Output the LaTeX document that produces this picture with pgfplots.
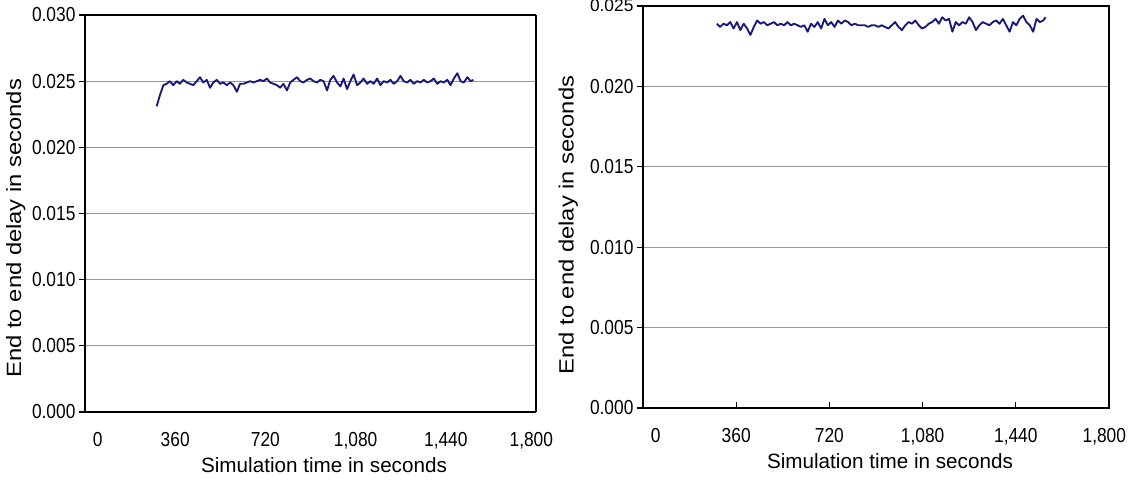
\documentclass[border=0pt]{standalone}
\usepackage{pgfplots}
\pgfplotsset{compat=1.18}
\usepackage{graphicx}
\usepackage{fontspec}
\setmainfont{Liberation Sans}
\definecolor{navy}{RGB}{25,25,125}
\definecolor{gridgray}{RGB}{150,150,150}
\newcommand{\V}[1]{\scalebox{1}[1.17]{#1}}

\pgfplotsset{
  refstyle/.style={
    scale only axis,
    anchor=south west,
    xmin=0, xmax=1800,
    scaled y ticks=false,
    xtick={0,360,720,1080,1440,1800},
    xticklabels={{\hspace*{19pt}\V{0}},\V{360},\V{720},\V{1,080},\V{1,440},{\V{1,800}\hspace*{7pt}}},
    axis line style={black, line width=0.9pt},
    ymajorgrids,
    major grid style={gridgray, line width=0.7pt},
    tick style={black, line width=0.8pt},
    xtick pos=bottom, ytick pos=left,
    ytick align=outside,
    major tick length=4.5pt,
    yticklabel style={font=\fontsize{13}{15}\selectfont, anchor=east, inner sep=0pt, xshift=-2.5pt},
    xticklabel style={font=\fontsize{13}{15}\selectfont, anchor=north, inner sep=0pt, yshift=-15pt},
    xlabel={Simulation time in seconds},
    ylabel={\scalebox{1.15}[1]{End to end delay in seconds}},
    every axis x label/.style={at={(axis description cs:0.53,0)}, anchor=north, inner sep=0pt, yshift=-34pt, font=\fontsize{15.5}{17}\selectfont},
    label style={font=\fontsize{15.5}{17}\selectfont},
  }
}

\begin{document}
\begin{tikzpicture}
\useasboundingbox (0,0) rectangle (846pt,362.25pt);
\begin{axis}[refstyle,
  at={(63.75pt,53.25pt)}, width=338.25pt, height=297.75pt,
  ymin=0, ymax=0.030,
  ytick={0,0.005,0.010,0.015,0.020,0.025,0.030},
  yticklabels={\V{0.000},\V{0.005},\V{0.010},\V{0.015},\V{0.020},\V{0.025},\V{0.030}},
  xtick style={draw=none},
  separate axis lines,
  y axis line style={line width=1.6pt},
  every axis y label/.style={at={(axis description cs:0,0.463)}, anchor=center, rotate=90, yshift=52pt, font=\fontsize{15.5}{17}\selectfont},
]
\addplot[navy, line width=1.4pt, line join=round] coordinates {
(286,0.0231) (300,0.0240) (313,0.0247) (326,0.0248) (339,0.0250) (352,0.0247)
(366,0.0250) (379,0.0248) (392,0.0251) (406,0.0249) (419,0.0248) (432,0.0247)
(446,0.0250) (459,0.0253) (472,0.0249) (486,0.0251) (499,0.0245) (512,0.0249)
(526,0.0251) (539,0.0248) (552,0.0249) (566,0.0247) (579,0.0249) (592,0.0247)
(606,0.0242) (619,0.0248) (632,0.0248) (646,0.0249) (659,0.0250) (672,0.0249)
(686,0.0250) (699,0.0251) (712,0.0250) (726,0.0252) (739,0.0249) (752,0.0248)
(766,0.0247) (779,0.0245) (792,0.0248) (806,0.0243) (819,0.0249) (832,0.0251)
(846,0.0253) (859,0.0250) (872,0.0249) (886,0.0251) (899,0.0252) (912,0.0250)
(926,0.0249) (939,0.0251) (952,0.0250) (966,0.0243) (979,0.0251) (992,0.0254)
(1006,0.0249) (1019,0.0246) (1032,0.0252) (1046,0.0244) (1059,0.0250) (1072,0.0255)
(1086,0.0247) (1099,0.0249) (1112,0.0252) (1126,0.0248) (1139,0.0250) (1152,0.0248)
(1166,0.0252) (1179,0.0247) (1192,0.0250) (1206,0.0249) (1219,0.0251) (1232,0.0248)
(1246,0.0250) (1259,0.0254) (1272,0.0250) (1286,0.0249) (1299,0.0251) (1312,0.0248)
(1326,0.0250) (1339,0.0249) (1352,0.0251) (1366,0.0249) (1379,0.0250) (1392,0.0252)
(1406,0.0248) (1419,0.0250) (1432,0.0249) (1446,0.0251) (1459,0.0247) (1472,0.0252)
(1486,0.0256) (1499,0.0250) (1512,0.0249) (1526,0.0253) (1539,0.0250) (1550,0.0251)
};
\end{axis}
\begin{axis}[refstyle,
  at={(482.25pt,56.25pt)}, width=349.5pt, height=301.5pt,
  ymin=0, ymax=0.025,
  ytick={0,0.005,0.010,0.015,0.020,0.025},
  yticklabels={\V{0.000},\V{0.005},\V{0.010},\V{0.015},\V{0.020},{\raisebox{-2pt}{0.025}}},
  xtick align=inside,
  every axis y label/.style={at={(axis description cs:0,0.455)}, anchor=center, rotate=90, yshift=56pt, font=\fontsize{15.5}{17}\selectfont},
]
\addplot[navy, line width=1.4pt, line join=round] coordinates {
(285,0.0239) (298,0.0237) (311,0.0239) (324,0.0238) (337,0.0240) (350,0.0236)
(363,0.0240) (376,0.0235) (389,0.0239) (402,0.0236) (415,0.0232) (428,0.0237)
(441,0.0241) (454,0.0239) (467,0.0240) (480,0.0238) (493,0.0239) (506,0.0240)
(519,0.0238) (532,0.0239) (545,0.0238) (558,0.0240) (571,0.0238) (584,0.0239)
(597,0.0238) (610,0.0237) (623,0.0238) (636,0.0234) (649,0.0239) (662,0.0237)
(675,0.0240) (688,0.0236) (701,0.0242) (714,0.0238) (727,0.0240) (740,0.0237)
(753,0.0241) (766,0.0239) (779,0.0241) (792,0.0240) (805,0.0238) (818,0.0239)
(831,0.0238) (844,0.0238) (857,0.0238) (870,0.0237) (883,0.0238) (896,0.0238)
(909,0.0237) (922,0.0238) (935,0.0237) (948,0.0236) (961,0.0238) (974,0.0240)
(987,0.0237) (1000,0.0235) (1013,0.0238) (1026,0.0240) (1039,0.0239) (1052,0.0241)
(1065,0.0238) (1078,0.0236) (1091,0.0237) (1104,0.0239) (1117,0.0240) (1130,0.0242)
(1143,0.0239) (1156,0.0243) (1169,0.0241) (1182,0.0242) (1195,0.0234) (1208,0.0240)
(1221,0.0238) (1234,0.0240) (1247,0.0239) (1260,0.0243) (1273,0.0240) (1286,0.0235)
(1299,0.0238) (1312,0.0240) (1325,0.0239) (1338,0.0238) (1351,0.0240) (1364,0.0241)
(1377,0.0239) (1390,0.0242) (1403,0.0238) (1416,0.0234) (1429,0.0240) (1442,0.0238)
(1455,0.0242) (1468,0.0244) (1481,0.0240) (1494,0.0238) (1507,0.0234) (1520,0.0242)
(1533,0.0240) (1546,0.0241) (1555,0.0243)
};
\end{axis}
\end{tikzpicture}
\end{document}
